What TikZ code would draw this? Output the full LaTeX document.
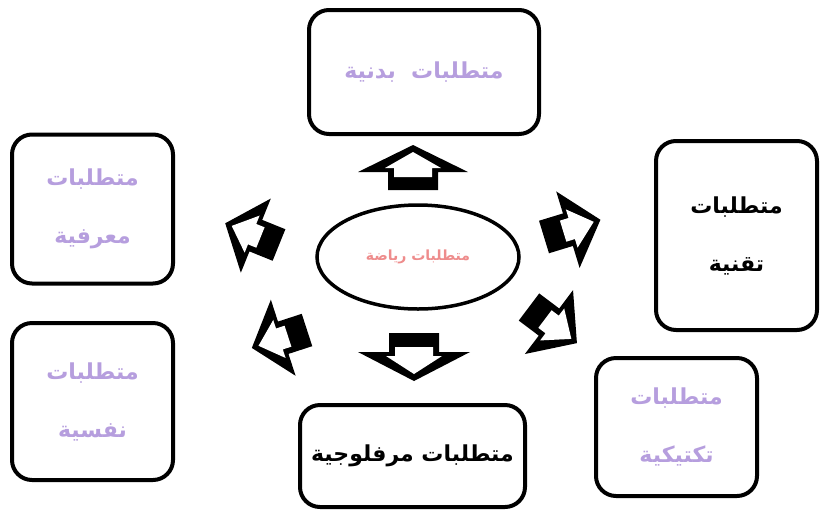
\documentclass[tikz,border=0pt]{standalone}
\usepackage{fontspec}
\newfontfamily\arabicfont[Script=Arabic]{DejaVu Sans}
\usepackage{tikz}
\usetikzlibrary{shapes.geometric}
\TeXXeTstate=1
\definecolor{lavtext}{RGB}{182,158,222}
\definecolor{salmontext}{RGB}{238,140,140}
\newcommand{\artext}[1]{\beginR #1\endR}

\tikzset{
  reqbox/.style={draw, line width=4pt, rounded corners=20pt, fill=white, align=center, inner sep=0pt},
  reqtext/.style={font=\arabicfont\bfseries\fontsize{22}{58}\selectfont, text=lavtext},
  % block arrow: shaft length, head length, shaft half width, head half width
  pics/bigarrow/.style n args={4}{code={
    \fill[black] (0,-#3) -- (#1,-#3) -- (#1,-#4) -- (#1+#2,0) -- (#1,#4) -- (#1,#3) -- (0,#3) -- cycle;
    \fill[white] (#1-5,-#3+6) -- (#1+4,-#3+6) -- (#1+4,-#3-3) -- (#1+#2-7,0) -- (#1+4,#3+3) -- (#1+4,#3-6) -- (#1-5,#3-6) -- cycle;
  }}
}

\begin{document}
\begin{tikzpicture}[x=1pt, y=-1pt]
\useasboundingbox (0,0) rectangle (824,515);

% Boxes
\node[reqbox, reqtext, minimum width=230pt, minimum height=124pt] (physical) at (424,72) {\artext{متطلبات~ بدنية}};
\node[reqbox, reqtext, minimum width=161pt, minimum height=149pt] (cognitive) at (92.5,209) {\artext{متطلبات}\\\artext{معرفية}};
\node[reqbox, reqtext, minimum width=161pt, minimum height=157pt] (psychological) at (92.5,401.5) {\artext{متطلبات}\\\artext{نفسية}};
\node[reqbox, reqtext, text=black, minimum width=161pt, minimum height=189pt] (technical) at (736.5,235.5) {\artext{متطلبات}\\\artext{تقنية}};
\node[reqbox, reqtext, minimum width=161pt, minimum height=138pt] (tactical) at (676.5,427) {\artext{متطلبات}\\\artext{تكتيكية}};
\node[reqbox, reqtext, text=black, minimum width=225pt, minimum height=102pt] (morphological) at (412.5,456) {\artext{متطلبات مرفلوجية}};

% Centre
\node[ellipse, draw, line width=3.5pt, minimum width=202pt, minimum height=104pt,
      font=\arabicfont\bfseries\fontsize{14}{16}\selectfont, text=salmontext] (sport) at (418,257) {\artext{متطلبات رياضة}};

% Arrows
\pic[rotate=90] (arrPhysical) at (413,190) {bigarrow={18}{27}{25}{55}};
\pic[rotate=-90] (arrMorph) at (414,333) {bigarrow={19}{29}{25}{56}};
\pic[rotate=158] (arrCognitive) at (279,245) {bigarrow={25}{33}{17}{40}};
\pic[rotate=17] (arrTechnical) at (544,237) {bigarrow={25}{34}{17}{40}};
\pic[rotate=198] (arrPsych) at (307,330) {bigarrow={25}{33}{17}{40}};
\pic[rotate=-37] (arrTactical) at (529,307) {bigarrow={25}{35}{17}{40}};
\end{tikzpicture}
\end{document}
